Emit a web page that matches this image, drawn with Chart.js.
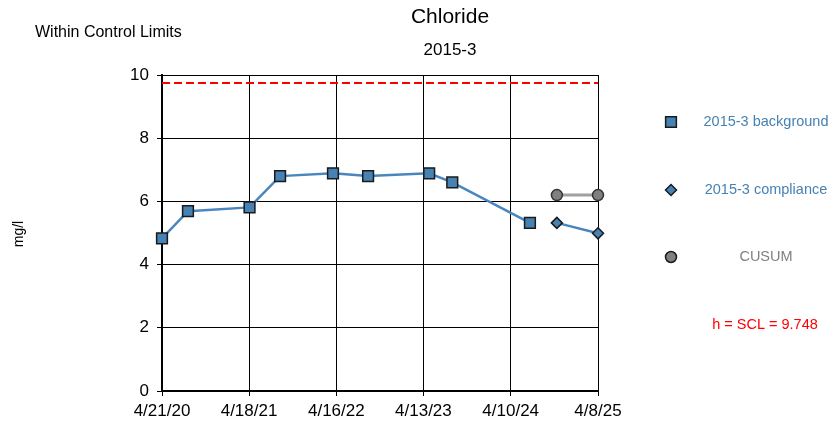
<!DOCTYPE html>
<html>
<head>
<meta charset="utf-8">
<script src="https://cdn.jsdelivr.net/npm/chart.js@4.4.1/dist/chart.umd.min.js"></script>
<style>
    html, body { margin: 0; padding: 0; background: #fff; }
    #wrap { width: 832px; height: 424px; }
</style>
</head>
<body>
<div id="wrap"><canvas id="chlorideChart" width="832" height="424"></canvas></div>
<script>
// Sample data (mg/l)
const backgroundDates = ['2020-04-21', '2020-08-07', '2021-04-20', '2021-08-25', '2022-04-02', '2022-08-26', '2023-05-07', '2023-08-11', '2024-06-29'];
const backgroundValues = [4.83, 5.69, 5.81, 6.80, 6.89, 6.80, 6.89, 6.60, 5.32];
const complianceDates = ['2024-10-19', '2025-04-08'];
const complianceValues = [5.32, 4.99];
const cusumDates = ['2024-10-19', '2025-04-08'];
const cusumValues = [6.20, 6.20];
const scl = 9.748;

const tickDates = ['2020-04-21', '2021-04-18', '2022-04-16', '2023-04-13', '2024-04-10', '2025-04-08'];
const tickLabels = ['4/21/20', '4/18/21', '4/16/22', '4/13/23', '4/10/24', '4/8/25'];

const FONT = 'Liberation Sans, Arial, Helvetica, sans-serif';
const BLUE = '#4682b4';

// days since first sample
const origin = Date.UTC(2020, 3, 21);
const toDay = s => {
    const [y, m, d] = s.split('-').map(Number);
    return Math.round((Date.UTC(y, m - 1, d) - origin) / 86400000);
};
const pts = (dates, vals) => dates.map((d, i) => ({ x: toDay(d), y: vals[i] }));
const tickDays = tickDates.map(toDay);
const xMax = tickDays[tickDays.length - 1];

// titles, axis label and the side legend
const extraText = {
    id: 'extraText',
    afterDraw(chart) {
        const ctx = chart.ctx;
        ctx.save();
        ctx.textBaseline = 'middle';

        ctx.fillStyle = '#000';
        ctx.textAlign = 'center';
        ctx.font = `21px ${FONT}`;
        ctx.fillText('Chloride', 450, 17);
        ctx.font = `17px ${FONT}`;
        ctx.fillText('2015-3', 450, 50);

        ctx.textAlign = 'left';
        ctx.font = `16px ${FONT}`;
        ctx.fillText('Within Control Limits', 35, 33);

        ctx.save();
        ctx.translate(19, 234);
        ctx.rotate(-Math.PI / 2);
        ctx.textAlign = 'center';
        ctx.font = `14px ${FONT}`;
        ctx.fillText('mg/l', 0, 0);
        ctx.restore();

        const items = [
            { text: '2015-3 background', style: 'rect', r: 7.6, fill: BLUE, color: BLUE, y: 122 },
            { text: '2015-3 compliance', style: 'rectRot', r: 5.5, fill: BLUE, color: BLUE, y: 190 },
            { text: 'CUSUM', style: 'circle', r: 5.5, fill: '#808080', color: '#808080', y: 257 },
        ];
        ctx.font = `14.5px ${FONT}`;
        ctx.textAlign = 'center';
        items.forEach(it => {
            ctx.fillStyle = it.fill;
            ctx.strokeStyle = '#1a1a1a';
            ctx.lineWidth = 1.5;
            Chart.helpers.drawPoint(ctx, { pointStyle: it.style, radius: it.r, borderWidth: 1.5 }, 671, it.y);
            ctx.fillStyle = it.color;
            ctx.fillText(it.text, 766, it.y);
        });
        ctx.fillStyle = '#ff0000';
        ctx.fillText('h = SCL = ' + scl, 765, 325);
        ctx.restore();
    }
};

new Chart(document.getElementById('chlorideChart').getContext('2d'), {
    type: 'scatter',
    data: {
        datasets: [
            {
                label: 'SCL',
                data: [{ x: 0, y: scl }, { x: xMax, y: scl }],
                showLine: true,
                borderColor: '#ff0000',
                borderWidth: 2,
                borderDash: [8, 4],
                pointRadius: 0,
            },
            {
                label: 'CUSUM',
                data: pts(cusumDates, cusumValues),
                showLine: true,
                clip: false,
                borderColor: '#a0a0a0',
                borderWidth: 3,
                pointStyle: 'circle',
                pointRadius: 5.5,
                backgroundColor: '#808080',
                pointBorderColor: '#333',
                pointBorderWidth: 1.5,
            },
            {
                label: '2015-3 compliance',
                data: pts(complianceDates, complianceValues),
                showLine: true,
                clip: false,
                borderColor: '#4a86be',
                borderWidth: 2.5,
                pointStyle: 'rectRot',
                pointRadius: 5.5,
                backgroundColor: BLUE,
                pointBorderColor: '#1a1a1a',
                pointBorderWidth: 1.5,
            },
            {
                label: '2015-3 background',
                data: pts(backgroundDates, backgroundValues),
                showLine: true,
                clip: false,
                borderColor: '#4a86be',
                borderWidth: 2.5,
                pointStyle: 'rect',
                pointRadius: 7.6,
                backgroundColor: BLUE,
                pointBorderColor: '#1a1a1a',
                pointBorderWidth: 1.5,
            },
        ],
    },
    options: {
        responsive: false,
        animation: false,
        layout: { padding: { left: 0, top: 75, right: 234, bottom: 0 } },
        plugins: {
            legend: { display: false },
            tooltip: { enabled: false },
        },
        scales: {
            x: {
                type: 'linear',
                min: 0,
                max: xMax,
                afterBuildTicks: axis => { axis.ticks = tickDays.map(v => ({ value: v })); },
                afterFit: axis => { axis.height = 33; },
                ticks: {
                    autoSkip: false,
                    maxRotation: 0,
                    padding: 5,
                    color: '#000',
                    font: { family: FONT, size: 17 },
                    callback: v => tickLabels[tickDays.indexOf(v)],
                },
                grid: { color: '#000', lineWidth: 1, tickLength: 5 },
                border: { color: '#000', width: 2 },
            },
            y: {
                min: 0,
                max: 10,
                afterFit: axis => { axis.width = 162; },
                ticks: {
                    stepSize: 2,
                    padding: 8,
                    color: '#000',
                    font: { family: FONT, size: 17 },
                },
                grid: { color: '#000', lineWidth: 1, tickLength: 5 },
                border: { color: '#000', width: 2 },
            },
        },
    },
    plugins: [extraText],
});
</script>
</body>
</html>
